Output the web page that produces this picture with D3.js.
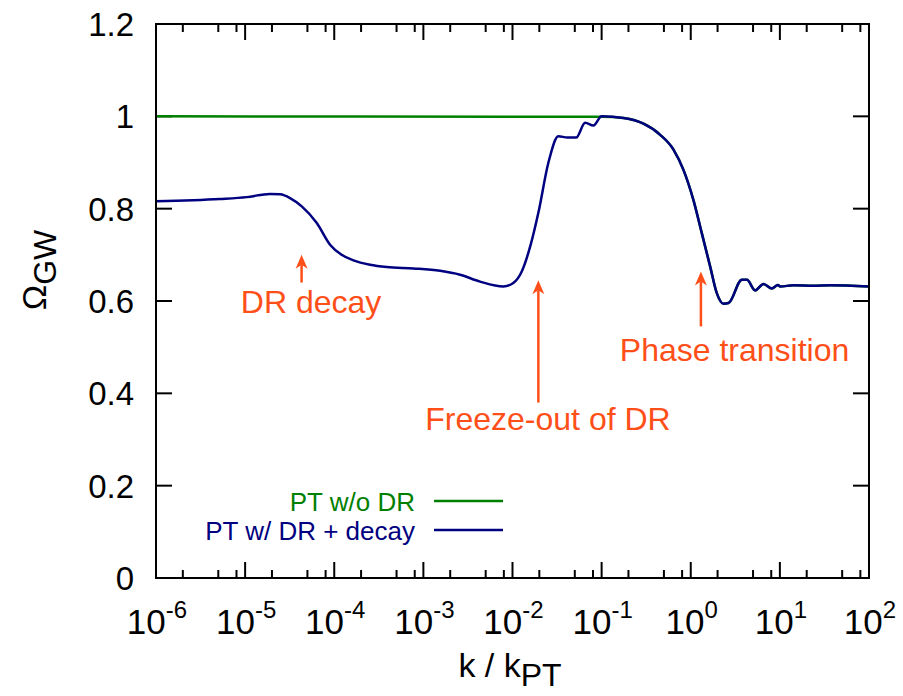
<!DOCTYPE html>
<html>
<head>
<meta charset="utf-8">
<script src="https://cdnjs.cloudflare.com/ajax/libs/d3/7.8.5/d3.min.js"></script>
<style>
  body { margin: 0; background: #fff; }
  svg text { font-family: "Liberation Sans", Arial, Helvetica, sans-serif; }
</style>
</head>
<body>
<div id="chart"></div>
<script>
// PT with dark radiation + decay (blue curve)
var decayK = [1e-6, 5.2e-6, 1.04e-5, 1.9e-5, 2.47e-5, 3.19e-5, 4.32e-5, 6.37e-5, 8.97e-5,
  1.21e-4, 1.64e-4, 2.52e-4, 3.88e-4, 7.73e-4, 1.54e-3, 2.58e-3, 4.33e-3, 7.9e-3, 1.02e-2,
  1.27e-2, 1.6e-2, 1.95e-2, 2.53e-2, 3.27e-2, 4.13e-2, 5.18e-2, 6.53e-2, 8.09e-2, 0.1,
  0.176, 0.295, 0.454, 0.64, 0.828, 1.07, 1.33, 1.65, 1.96, 2.33, 2.65, 3.75, 4.27, 5.28,
  6.55, 8.13, 9.5, 10.1, 14.2, 23.8, 36.7, 100];
var decayOmega = [0.816, 0.821, 0.825, 0.832, 0.831, 0.823, 0.805, 0.769, 0.722,
  0.700, 0.688, 0.6785, 0.6735, 0.6705, 0.6655, 0.657, 0.642, 0.6315, 0.639,
  0.664, 0.722, 0.791, 0.900, 0.957, 0.954, 0.954, 0.986, 0.980, 1.0,
  0.9965, 0.984, 0.960, 0.928, 0.884, 0.819, 0.747, 0.675, 0.617, 0.594, 0.5955, 0.646, 0.646, 0.623,
  0.637, 0.627, 0.6345, 0.6315, 0.634, 0.633, 0.634, 0.6315];
// PT without dark radiation (green curve), flat part
var noDrK = [1e-6, 0.1];
var noDrOmega = [1.0, 0.999];

var yTicks = [0, 0.2, 0.4, 0.6, 0.8, 1, 1.2];
var xDecades = [-6, -5, -4, -3, -2, -1, 0, 1, 2];
var minorMult = [2, 5, 8];

var legendLabels = ["PT w/o DR", "PT w/ DR + decay"];
var notes = [
  {text: "DR decay", k: 4.3e-5, tip: 0.70, tail: 0.64, tx: 5.5e-5, ty: 0.575},
  {text: "Freeze-out of DR", k: 1.95e-2, tip: 0.645, tail: 0.38, tx: 2.5e-2, ty: 0.32},
  {text: "Phase transition", k: 1.3, tip: 0.664, tail: 0.545, tx: 3.1, ty: 0.47}
];

var W = 903, H = 696;
var margin = {left: 156, right: 34, top: 24, bottom: 118};
var green = "#008000", navy = "#000080", orange = "#ff4f19";

var svg = d3.select("#chart").append("svg").attr("width", W).attr("height", H);

var x = d3.scaleLog().domain([1e-6, 1e2]).range([margin.left, W - margin.right]);
var y = d3.scaleLinear().domain([0, 1.2]).range([H - margin.bottom, margin.top]);

var x0 = x.range()[0], x1 = x.range()[1], y0 = y.range()[0], y1 = y.range()[1];

// ticks
var tickG = svg.append("g").attr("stroke", "#000").attr("stroke-width", 2);
xDecades.forEach(function(p, i){
  var xv = x(Math.pow(10, p));
  tickG.append("line").attr("x1", xv).attr("x2", xv).attr("y1", y0).attr("y2", y0 - 16);
  tickG.append("line").attr("x1", xv).attr("x2", xv).attr("y1", y1).attr("y2", y1 + 16);
  if (i < xDecades.length - 1) {
    minorMult.forEach(function(m){
      var xm = x(m * Math.pow(10, p));
      tickG.append("line").attr("x1", xm).attr("x2", xm).attr("y1", y0).attr("y2", y0 - 8);
      tickG.append("line").attr("x1", xm).attr("x2", xm).attr("y1", y1).attr("y2", y1 + 8);
    });
  }
  var t = svg.append("text").attr("x", xv + 1).attr("y", 634).attr("text-anchor", "middle")
    .attr("font-size", 35);
  t.append("tspan").text("10");
  t.append("tspan").attr("dy", -16).attr("font-size", 24).text(p);
});
yTicks.forEach(function(v){
  var yv = y(v);
  tickG.append("line").attr("x1", x0).attr("x2", x0 + 16).attr("y1", yv).attr("y2", yv);
  tickG.append("line").attr("x1", x1).attr("x2", x1 - 16).attr("y1", yv).attr("y2", yv);
  svg.append("text").attr("x", 134).attr("y", yv + 12).attr("text-anchor", "end")
    .attr("font-size", 33).text(v);
});

// curves
var line = d3.line().curve(d3.curveMonotoneX)
  .x(function(d){ return x(d[0]); }).y(function(d){ return y(d[1]); });
var greenData = d3.zip(noDrK, noDrOmega).concat(
  d3.zip(decayK, decayOmega).filter(function(d){ return d[0] > 0.1; }));
svg.append("path").datum(greenData).attr("d", line)
  .attr("fill", "none").attr("stroke", green).attr("stroke-width", 2.5);
svg.append("path").datum(d3.zip(decayK, decayOmega)).attr("d", line)
  .attr("fill", "none").attr("stroke", navy).attr("stroke-width", 2.5).attr("stroke-linejoin", "round");

// frame
svg.append("rect").attr("x", x0).attr("y", y1).attr("width", x1 - x0).attr("height", y0 - y1)
  .attr("fill", "none").attr("stroke", "#000").attr("stroke-width", 2);

// legend
[green, navy].forEach(function(c, i){
  var ly = 501 + i * 29;
  svg.append("line").attr("x1", 434).attr("x2", 503).attr("y1", ly).attr("y2", ly)
    .attr("stroke", c).attr("stroke-width", 2.5);
  svg.append("text").attr("x", 415).attr("y", ly + 10).attr("text-anchor", "end")
    .attr("font-size", 26).attr("fill", c).text(legendLabels[i]);
});

// annotations
notes.forEach(function(n){
  var ax = x(n.k), tipY = y(n.tip), tailY = y(n.tail);
  svg.append("line").attr("x1", ax).attr("x2", ax).attr("y1", tailY).attr("y2", tipY + 10)
    .attr("stroke", orange).attr("stroke-width", 2.5);
  svg.append("path").attr("d", "M" + ax + "," + tipY + "L" + (ax - 6) + "," + (tipY + 14) +
    "L" + ax + "," + (tipY + 10) + "L" + (ax + 6) + "," + (tipY + 14) + "Z").attr("fill", orange);
});
notes.forEach(function(n){
  svg.append("text").attr("x", x(n.tx)).attr("y", y(n.ty)).attr("text-anchor", "middle")
    .attr("font-size", 32).attr("fill", orange).text(n.text);
});

// axis titles
var xt = svg.append("text").attr("x", 510).attr("y", 677).attr("text-anchor", "middle").attr("font-size", 34);
xt.append("tspan").text("k / k");
xt.append("tspan").attr("dy", 9).attr("font-size", 32).text("PT");
var yt = svg.append("text").attr("transform", "translate(46,270) rotate(-90)")
  .attr("text-anchor", "middle").attr("font-size", 34);
yt.append("tspan").text("\u03A9");
yt.append("tspan").attr("dy", 10).attr("font-size", 32).text("GW");
</script>
</body>
</html>
